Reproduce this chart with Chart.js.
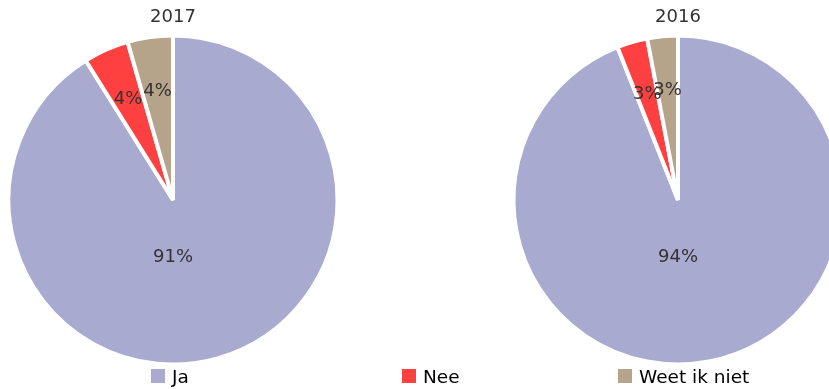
<!DOCTYPE html>
<html>
<head>
<meta charset="utf-8">
<script src="https://cdn.jsdelivr.net/npm/chart.js@4/dist/chart.umd.min.js"></script>
<style>
  html, body { margin: 0; padding: 0; background: #fff; }
  body { position: relative; width: 829px; height: 389px; overflow: hidden; font-family: "DejaVu Sans", Verdana, sans-serif; }
  canvas { position: absolute; top: 0; }
  #pie2017 { left: 0; }
  #pie2016 { left: 505px; }
  .legend-item { position: absolute; top: 366px; height: 20px; display: flex; align-items: center; font-size: 18.5px; color: #000; white-space: nowrap; }
  .legend-box { width: 14px; height: 14px; margin-right: 7px; }
</style>
</head>
<body>
<canvas id="pie2017" width="346" height="389"></canvas>
<canvas id="pie2016" width="346" height="389"></canvas>
<div id="legend"></div>
<script>
  const categories = ['Ja', 'Nee', 'Weet ik niet'];
  const years = ['2017', '2016'];
  const values2017 = [91.1, 4.45, 4.45];
  const values2016 = [94, 3, 3];

  const sliceColors = ['#a9aad0', '#ff4040', '#b5a48a'];
  const legendLeft = [151, 402, 618];

  // percentage text inside each slice; a slice over half the pie gets its label below the centre
  const sliceLabels = {
    id: 'sliceLabels',
    afterDatasetsDraw(chart) {
      const { ctx } = chart;
      const data = chart.data.datasets[0].data;
      const total = data.reduce((a, b) => a + b, 0);
      const meta = chart.getDatasetMeta(0);
      ctx.save();
      ctx.font = '18px "DejaVu Sans", Verdana, sans-serif';
      ctx.fillStyle = '#333333';
      ctx.textAlign = 'center';
      ctx.textBaseline = 'middle';
      meta.data.forEach((arc, i) => {
        const { x, y, startAngle, endAngle, outerRadius } = arc.getProps(['x', 'y', 'startAngle', 'endAngle', 'outerRadius'], true);
        const share = data[i] / total;
        const big = share > 0.5;
        const angle = big ? Math.PI / 2 : (startAngle + endAngle) / 2;
        const dist = outerRadius * (big ? 0.35 : 0.67);
        ctx.fillText(Math.round(share * 100) + '%', x + Math.cos(angle) * dist, y + Math.sin(angle) * dist);
      });
      ctx.restore();
    },
  };

  function renderPie(canvasId, title, values) {
    new Chart(document.getElementById(canvasId), {
      type: 'pie',
      data: {
        labels: categories,
        datasets: [{
          data: values,
          backgroundColor: sliceColors,
          borderColor: '#ffffff',
          borderWidth: 4,
          radius: 164.5,
          clip: false,
        }],
      },
      options: {
        responsive: false,
        animation: false,
        devicePixelRatio: 1,
        layout: { padding: { bottom: 27.6 } },
        plugins: {
          legend: { display: false },
          tooltip: { enabled: false },
          title: {
            display: true,
            text: title,
            color: '#333333',
            font: { family: '"DejaVu Sans", Verdana, sans-serif', size: 18, weight: 'normal' },
            padding: { top: 7, bottom: 10 },
          },
        },
      },
      plugins: [sliceLabels],
    });
  }

  renderPie('pie2017', years[0], values2017);
  renderPie('pie2016', years[1], values2016);

  const legend = document.getElementById('legend');
  categories.forEach((name, i) => {
    const item = document.createElement('div');
    item.className = 'legend-item';
    item.style.left = legendLeft[i] + 'px';
    const box = document.createElement('span');
    box.className = 'legend-box';
    box.style.background = sliceColors[i];
    item.appendChild(box);
    item.appendChild(document.createTextNode(name));
    legend.appendChild(item);
  });
</script>
</body>
</html>
